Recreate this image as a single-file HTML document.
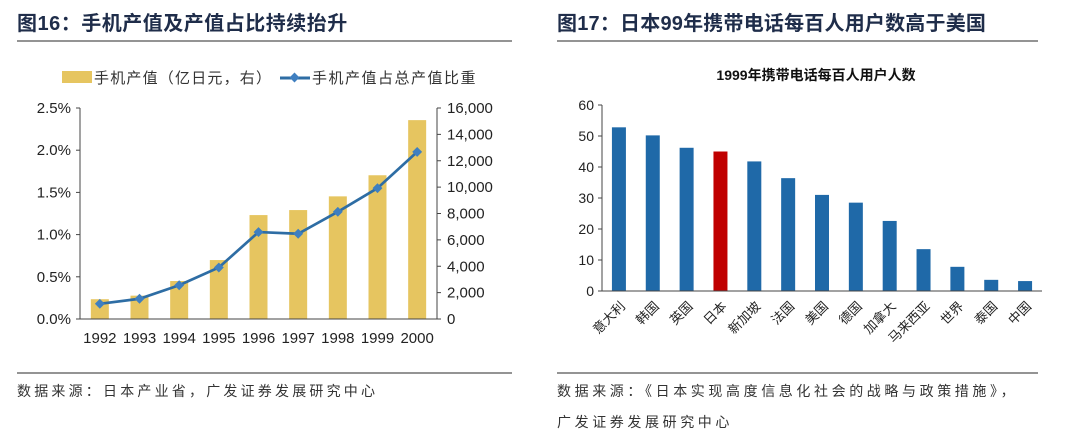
<!DOCTYPE html>
<html><head><meta charset="utf-8">
<style>
html,body{margin:0;padding:0;background:#fff;}
body{width:1080px;height:438px;overflow:hidden;font-family:"Liberation Sans","Noto Sans CJK SC",sans-serif;}
svg{display:block}
.t{font-family:"Liberation Sans","Noto Sans CJK SC",sans-serif;}
</style></head>
<body>
<svg id="s" width="1080" height="438" viewBox="0 0 1080 438">
  <g>
    <text class="t" x="17" y="30" font-size="20" font-weight="bold" fill="#1f2d4a" letter-spacing="0.5">图16：手机产值及产值占比持续抬升</text>
    <line x1="17" y1="41" x2="512" y2="41" stroke="#555" stroke-width="1.2"/>
  </g>
  <g>
    <text class="t" x="557" y="30" font-size="20" font-weight="bold" fill="#1f2d4a" letter-spacing="0.2">图17：日本99年携带电话每百人用户数高于美国</text>
    <line x1="557" y1="41" x2="1038" y2="41" stroke="#555" stroke-width="1.2"/>
  </g>
  <g>
    <rect x="62" y="71" width="30" height="12" fill="#e6c560"/>
    <text class="t" x="94" y="83" font-size="15" fill="#333" letter-spacing="1.2">手机产值（亿日元，右）</text>
    <line x1="280" y1="78" x2="310" y2="78" stroke="#2e6da4" stroke-width="3"/>
    <rect x="291" y="74" width="7" height="7" fill="#3f7fc0" transform="rotate(45 294.5 77.5)"/>
    <text class="t" x="312" y="83" font-size="15" fill="#333" letter-spacing="1.5">手机产值占总产值比重</text>
  </g>
  <g id="left"></g>
  <text class="t" x="816" y="80" font-size="14" font-weight="bold" fill="#111" text-anchor="middle">1999年携带电话每百人用户人数</text>
  <g id="right"></g>
  <g>
    <line x1="17" y1="373" x2="512" y2="373" stroke="#555" stroke-width="1.2"/>
    <text class="t" x="17" y="396" font-size="14" fill="#333" letter-spacing="3.2">数据来源：日本产业省，广发证券发展研究中心</text>
  </g>
  <g>
    <line x1="557" y1="373" x2="1038" y2="373" stroke="#555" stroke-width="1.2"/>
    <text class="t" x="557" y="396" font-size="14" fill="#333" letter-spacing="3.6">数据来源：《日本实现高度信息化社会的战略与政策措施》，</text>
    <text class="t" x="557" y="427" font-size="14" fill="#333" letter-spacing="3.6">广发证券发展研究中心</text>
  </g>
</svg>
<script>
const years = ["1992","1993","1994","1995","1996","1997","1998","1999","2000"];
const outputValue = [1500,1770,2880,4470,7880,8260,9300,10900,15080];
const shareValue = [0.18,0.24,0.40,0.61,1.03,1.01,1.27,1.55,1.98];
const leftTicks = ["0.0%","0.5%","1.0%","1.5%","2.0%","2.5%"];
const leftTickVals = [0,0.5,1,1.5,2,2.5];
const rightTickVals = [0,2000,4000,6000,8000,10000,12000,14000,16000];

const countries = ["意大利","韩国","英国","日本","新加坡","法国","美国","德国","加拿大","马来西亚","世界","泰国","中国"];
const users = [52.8,50.2,46.2,45,41.8,36.4,31,28.5,22.6,13.5,7.8,3.6,3.2];
const userTicks = [0,10,20,30,40,50,60];

const NS="http://www.w3.org/2000/svg";
function mk(parent,tag,attrs,text){const e=document.createElementNS(NS,tag);for(const k in attrs)e.setAttribute(k,attrs[k]);if(text!==undefined)e.textContent=text;parent.appendChild(e);return e;}
const fnt='"Liberation Sans","Noto Sans CJK SC",sans-serif';

// Left chart
const L=document.getElementById('left');
const lx0=80,lx1=437,ly0=319,ly1=108;
const yPct=v=>ly0-(v/2.5)*(ly0-ly1);
const yVal=v=>ly0-(v/16000)*(ly0-ly1);
const bw=(lx1-lx0)/years.length;
const xc=i=>lx0+bw*(i+0.5);
years.forEach((y,i)=>{
  const h=ly0-yVal(outputValue[i]);
  const r=mk(L,'rect',{x:xc(i)-9,y:yVal(outputValue[i]),width:18,height:h,fill:'#e6c560'});
  
  
  const t=mk(L,'text',{x:xc(i),y:343,'font-size':15,fill:'#222','text-anchor':'middle','font-family':fnt},y);
  
  
});
let pl=mk(L,'line',{x1:lx0,y1:ly1,x2:lx0,y2:ly0,stroke:'#444','stroke-width':1});


pl=mk(L,'line',{x1:lx1,y1:ly1,x2:lx1,y2:ly0,stroke:'#444','stroke-width':1});


pl=mk(L,'line',{x1:lx0,y1:ly0,x2:lx1,y2:ly0,stroke:'#444','stroke-width':1});


leftTickVals.forEach((v,i)=>{
  mk(L,'line',{x1:lx0-4,y1:yPct(v),x2:lx0,y2:yPct(v),stroke:'#444'});
  const t=mk(L,'text',{x:lx0-9,y:yPct(v)+5,'font-size':15,fill:'#222','text-anchor':'end','font-family':fnt},leftTicks[i]);
  
  
});
rightTickVals.forEach(v=>{
  mk(L,'line',{x1:lx1,y1:yVal(v),x2:lx1+4,y2:yVal(v),stroke:'#444'});
  const t=mk(L,'text',{x:lx1+10,y:yVal(v)+5,'font-size':15,fill:'#222','font-family':fnt},v.toLocaleString('en-US'));
  
  
});
const pts=shareValue.map((v,i)=>xc(i)+','+yPct(v)).join(' ');
const line=mk(L,'polyline',{points:pts,fill:'none',stroke:'#2e6da4','stroke-width':2.7});


shareValue.forEach((v,i)=>{
  const m=mk(L,'rect',{x:xc(i)-3.5,y:yPct(v)-3.5,width:7,height:7,fill:'#3f7fc0',transform:`rotate(45 ${xc(i)} ${yPct(v)})`});
  
  
});

// Right chart
const R=document.getElementById('right');
const rx0=602,rx1=1042,ry0=291,ry1=105;
const yU=v=>ry0-(v/60)*(ry0-ry1);
const cw=(rx1-rx0)/countries.length;
const cx=i=>rx0+cw*(i+0.5);
userTicks.forEach(v=>{
  mk(R,'line',{x1:rx0-4,y1:yU(v),x2:rx0,y2:yU(v),stroke:'#444'});
  const t=mk(R,'text',{x:rx0-8,y:yU(v)+5,'font-size':14,fill:'#222','text-anchor':'end','font-family':fnt},String(v));
  
  
});
countries.forEach((c,i)=>{
  const r=mk(R,'rect',{x:cx(i)-7,y:yU(users[i]),width:14,height:ry0-yU(users[i]),fill:c==='日本'?'#c00000':'#1f69a8'});
  
  
  const t=mk(R,'text',{x:cx(i)+7,y:307,'font-size':13,fill:'#222','text-anchor':'end','font-family':fnt,transform:`rotate(-45 ${cx(i)+7} 307)`},c);
  
  
});
pl=mk(R,'line',{x1:rx0,y1:ry1,x2:rx0,y2:ry0,stroke:'#444'});


pl=mk(R,'line',{x1:rx0-4,y1:ry0,x2:rx1,y2:ry0,stroke:'#444'});


</script>
</body></html>
